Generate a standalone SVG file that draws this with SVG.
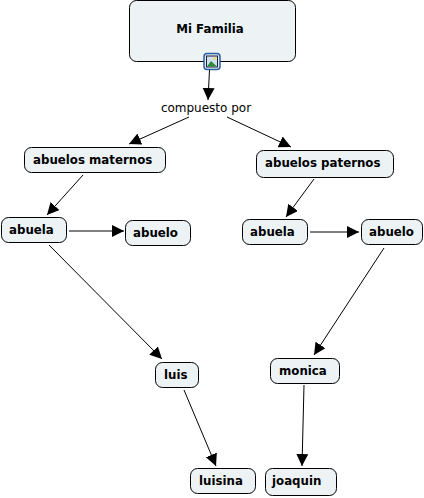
<svg xmlns="http://www.w3.org/2000/svg" width="424" height="498" viewBox="0 0 424 498">
<style>
.n{fill:#edf3f5;stroke:#000;stroke-width:1}
.t{font-family:"DejaVu Sans",Verdana,sans-serif;font-weight:bold;font-size:11.8px;fill:#000}
.l{font-family:"DejaVu Sans",Verdana,sans-serif;font-size:12px;fill:#000}
.c{stroke:#000;stroke-width:1;fill:none;marker-end:url(#a)}
</style>
<defs><marker id="a" markerUnits="userSpaceOnUse" markerWidth="14" markerHeight="14" refX="12" refY="6" orient="auto"><path d="M0 0L12 6L0 12Z" fill="#000"/></marker></defs>
<rect width="424" height="498" fill="#fff"/>
<g id="connectors">
<path class="c" d="M209.500 70L208 100"/>
<path class="c" d="M189 117L129 144"/>
<path class="c" d="M227 117L291 147"/>
<path class="c" d="M83 175L47 215"/>
<path class="c" d="M314 179L286 217"/>
<path class="c" d="M69 231L124 231"/>
<path class="c" d="M310 232L359 232"/>
<path class="c" d="M49 245L162 359"/>
<path class="c" d="M384 248L314 355"/>
<path class="c" d="M184 390L216 466"/>
<path class="c" d="M304 385L302 466"/>
</g>
<g id="mi-familia"><rect class="n" x="129.500" y="0.500" width="166" height="61" rx="7"/><text class="t" x="210" y="33" text-anchor="middle">Mi Familia</text>
<g id="icon"><rect x="204" y="53.500" width="16" height="16" rx="3" fill="#dfe9f5" stroke="#2a5fa8" stroke-width="1.500"/><rect x="206.500" y="56" width="11" height="11" fill="#cfe0f0" stroke="#223"/><path d="M207 66.500L211 61L217 66.500Z" fill="#2f8a3c"/><circle cx="214.500" cy="58.500" r="1.500" fill="#f0d860"/></g></g>
<g id="compuesto-por"><text class="l" x="206" y="112" text-anchor="middle">compuesto por</text></g>
<g id="abuelos-maternos"><rect class="n" x="24.500" y="147.500" width="141" height="25" rx="7"/><text class="t" x="33" y="164">abuelos maternos</text></g>
<g id="abuelos-paternos"><rect class="n" x="256.500" y="150.500" width="137" height="27" rx="7"/><text class="t" x="265" y="167">abuelos paternos</text></g>
<g id="abuela-m"><rect class="n" x="1.500" y="217.500" width="65" height="25" rx="7"/><text class="t" x="9" y="234">abuela</text></g>
<g id="abuelo-m"><rect class="n" x="125.500" y="220.500" width="65" height="25" rx="7"/><text class="t" x="133" y="237">abuelo</text></g>
<g id="abuela-p"><rect class="n" x="242.500" y="219.500" width="65" height="25" rx="7"/><text class="t" x="250" y="236">abuela</text></g>
<g id="abuelo-p"><rect class="n" x="361.500" y="219.500" width="61" height="25" rx="7"/><text class="t" x="369" y="236">abuelo</text></g>
<g id="luis"><rect class="n" x="155.500" y="362.500" width="43" height="25" rx="7"/><text class="t" x="164" y="379">luis</text></g>
<g id="monica"><rect class="n" x="270.500" y="358.500" width="69" height="25" rx="7"/><text class="t" x="279" y="375">monica</text></g>
<g id="luisina"><rect class="n" x="190.500" y="468.500" width="65" height="25" rx="7"/><text class="t" x="199" y="485">luisina</text></g>
<g id="joaquin"><rect class="n" x="265.500" y="468.500" width="71" height="27" rx="7"/><text class="t" x="272" y="485">joaquin</text></g>
</svg>
